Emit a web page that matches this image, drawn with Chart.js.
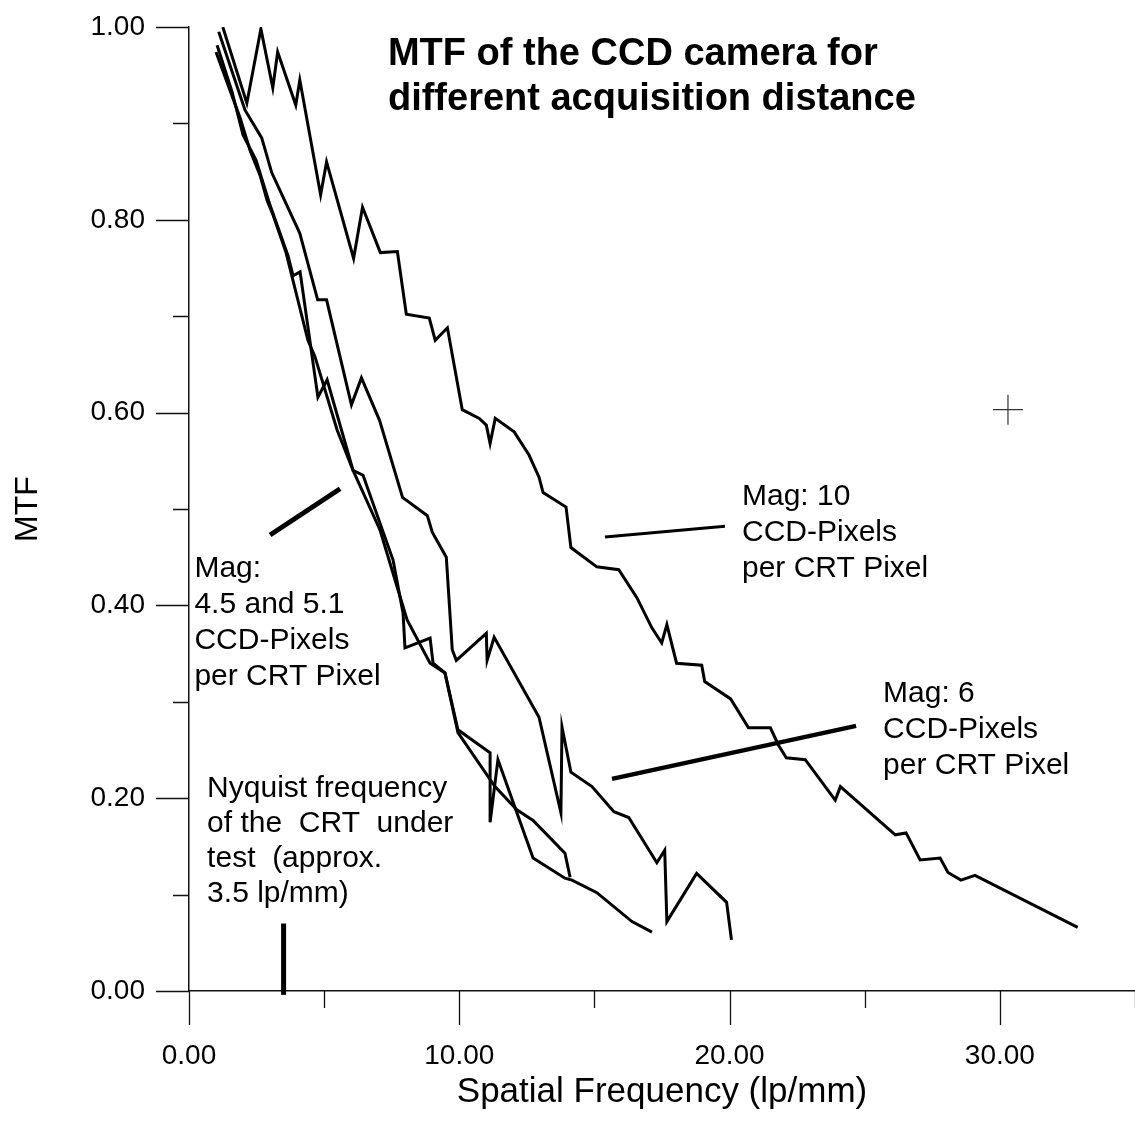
<!DOCTYPE html>
<html>
<head>
<meta charset="utf-8">
<title>MTF of the CCD camera</title>
<script src="https://cdn.jsdelivr.net/npm/chart.js@4.4.0/dist/chart.umd.min.js"></script>
<style>
  html, body { margin: 0; padding: 0; background: #fff; }
  canvas { display: block; }
</style>
</head>
<body>
<canvas id="mtfChart" width="1135" height="1121"></canvas>
<script>
// spatial frequency (lp/mm) and MTF for each magnification
const freqMag10 = [1.25, 2.14, 2.66, 3.10, 3.28, 3.95, 4.10, 4.87, 5.09, 6.09, 6.42, 7.08, 7.71, 8.04, 8.89, 9.11, 9.56, 10.11, 10.74, 11.0, 11.14, 11.33, 12.03, 12.58, 12.95, 13.10, 13.95, 14.13, 15.09, 15.90, 16.57, 17.12, 17.49, 17.68, 18.04, 18.97, 19.08, 20.04, 20.70, 21.51, 21.81, 22.10, 22.80, 23.91, 24.10, 26.13, 26.53, 27.05, 27.79, 28.08, 28.56, 29.08, 32.88];
const mtfMag10  = [1.0, 0.921, 0.998, 0.937, 0.974, 0.919, 0.945, 0.826, 0.860, 0.760, 0.813, 0.766, 0.767, 0.702, 0.698, 0.675, 0.688, 0.603, 0.594, 0.587, 0.568, 0.594, 0.580, 0.556, 0.533, 0.517, 0.502, 0.460, 0.440, 0.437, 0.408, 0.377, 0.361, 0.380, 0.340, 0.338, 0.321, 0.303, 0.273, 0.273, 0.255, 0.242, 0.240, 0.198, 0.212, 0.162, 0.164, 0.136, 0.138, 0.123, 0.115, 0.120, 0.066];

const freqMag6 = [1.1, 2.07, 2.69, 3.06, 4.10, 4.76, 5.09, 6.01, 6.38, 7.05, 7.90, 8.82, 9.00, 9.52, 9.74, 9.89, 11.0, 11.03, 11.29, 12.95, 13.76, 13.80, 14.13, 14.91, 15.72, 16.27, 17.31, 17.60, 17.68, 18.78, 19.89, 20.07];
const mtfMag6  = [0.995, 0.914, 0.885, 0.849, 0.786, 0.717, 0.717, 0.608, 0.636, 0.592, 0.512, 0.493, 0.476, 0.450, 0.354, 0.343, 0.371, 0.343, 0.367, 0.284, 0.185, 0.274, 0.227, 0.212, 0.186, 0.180, 0.133, 0.146, 0.072, 0.122, 0.092, 0.053];

const freqMag45 = [1.04, 1.59, 2.0, 2.48, 3.0, 3.66, 3.85, 4.11, 4.77, 5.11, 6.07, 6.44, 7.55, 7.92, 7.99, 8.92, 9.03, 9.47, 9.95, 11.14, 11.14, 11.43, 12.73, 13.91, 14.17, 15.09, 16.39, 17.13];
const mtfMag45  = [0.981, 0.933, 0.888, 0.862, 0.815, 0.763, 0.742, 0.746, 0.616, 0.634, 0.540, 0.535, 0.447, 0.392, 0.356, 0.366, 0.340, 0.330, 0.271, 0.247, 0.175, 0.240, 0.138, 0.117, 0.115, 0.102, 0.072, 0.061];

const freqMag51 = [1.0, 1.44, 1.89, 2.26, 2.63, 2.89, 3.11, 3.59, 4.40, 4.66, 5.48, 6.07, 7.07, 7.81, 8.07, 8.92, 9.47, 9.95, 11.32, 12.13, 12.73, 13.91, 14.10];
const mtfMag51  = [0.974, 0.940, 0.906, 0.872, 0.846, 0.820, 0.805, 0.766, 0.675, 0.658, 0.582, 0.540, 0.478, 0.409, 0.385, 0.340, 0.330, 0.268, 0.212, 0.188, 0.177, 0.143, 0.118];

// Nyquist marker of the CRT (approx. 3.5 lp/mm)
const nyquistFreq = [3.5, 3.5];
const nyquistMtf  = [-0.004, 0.07];

// leader lines from the labels to the curves
const leaderMag45 = { x: [3.0, 5.59],   y: [0.473, 0.521] };
const leaderMag10 = { x: [15.39, 19.83], y: [0.471, 0.482] };
const leaderMag6  = { x: [15.65, 24.68], y: [0.220, 0.275] };

// stray cross marker
const crossFreq = [30.3];
const crossMtf  = [0.603];

// tick values that carry a label
const xLabelTicks = [0, 10, 20, 30];
const yLabelTicks = [0, 0.2, 0.4, 0.6, 0.8, 1.0];

const FONT = '"Liberation Sans", Arial, Helvetica, sans-serif';

const toPoints = (xs, ys) => xs.map((x, i) => ({ x: x, y: ys[i] }));

const curve = (label, xs, ys) => ({
    label: label,
    data: toPoints(xs, ys),
    showLine: true,
    borderColor: '#000',
    borderWidth: 3,
    borderJoinStyle: 'miter',
    pointRadius: 0,
    tension: 0,
    fill: false
});

const leader = (label, line, width) => ({
    label: label,
    data: toPoints(line.x, line.y),
    showLine: true,
    borderColor: '#000',
    borderWidth: width,
    borderCapStyle: 'butt',
    pointRadius: 0
});

// texts placed in data coordinates: [freq, mtf] of the first baseline
const notes = [
    { at: [7.36, 0.961], lines: ['MTF of the CCD camera for', 'different acquisition distance'], font: 'bold 38px ' + FONT, step: 45 },
    { at: [20.46, 0.504], lines: ['Mag: 10', 'CCD-Pixels', 'per CRT Pixel'], font: '30px ' + FONT, step: 36 },
    { at: [25.68, 0.300], lines: ['Mag: 6', 'CCD-Pixels', 'per CRT Pixel'], font: '30px ' + FONT, step: 36 },
    { at: [0.2, 0.429], lines: ['Mag:', '4.5 and 5.1', 'CCD-Pixels', 'per CRT Pixel'], font: '30px ' + FONT, step: 36 },
    { at: [0.67, 0.201], lines: ['Nyquist frequency', 'of the  CRT  under', 'test  (approx.', '3.5 lp/mm)'], font: '30px ' + FONT, step: 35 }
];

// major/minor tick marks on both axes
const tickMarks = {
    id: 'tickMarks',
    afterDraw(chart) {
        const ctx = chart.ctx;
        const xs = chart.scales.x, ys = chart.scales.y;
        const area = chart.chartArea;
        ctx.save();
        ctx.strokeStyle = '#111';
        ctx.lineWidth = 1.3;
        ctx.beginPath();
        xs.ticks.forEach(t => {
            const px = Math.round(xs.getPixelForValue(t.value)) + 0.5;
            const len = xLabelTicks.includes(t.value) ? 34 : 17;
            ctx.moveTo(px, area.bottom);
            ctx.lineTo(px, area.bottom + len);
        });
        ys.ticks.forEach(t => {
            const py = Math.round(ys.getPixelForValue(t.value)) + 0.5;
            const major = Math.round(t.value * 10) % 2 === 0;
            ctx.moveTo(area.left - (major ? 33 : 16), py);
            ctx.lineTo(area.left, py);
        });
        ctx.stroke();
        ctx.restore();
    }
};

const noteText = {
    id: 'noteText',
    afterDraw(chart) {
        const ctx = chart.ctx;
        const xs = chart.scales.x, ys = chart.scales.y;
        ctx.save();
        ctx.fillStyle = '#000';
        ctx.textAlign = 'left';
        ctx.textBaseline = 'alphabetic';
        notes.forEach(n => {
            ctx.font = n.font;
            const x0 = xs.getPixelForValue(n.at[0]);
            const y0 = ys.getPixelForValue(n.at[1]);
            n.lines.forEach((s, i) => ctx.fillText(s, x0, y0 + i * n.step));
        });
        ctx.restore();
    }
};

// tick marks come from the plugin; the hidden grid ticks only reserve label space
const hiddenGrid = (len) => ({
    display: true,
    drawOnChartArea: false,
    drawTicks: true,
    tickLength: len,
    tickColor: 'rgba(0,0,0,0)'
});

new Chart(document.getElementById('mtfChart'), {
    type: 'scatter',
    data: {
        datasets: [
            curve('Mag 10', freqMag10, mtfMag10),
            curve('Mag 6', freqMag6, mtfMag6),
            curve('Mag 4.5', freqMag45, mtfMag45),
            curve('Mag 5.1', freqMag51, mtfMag51),
            leader('leader 4.5/5.1', leaderMag45, 5),
            leader('leader 10', leaderMag10, 3),
            leader('leader 6', leaderMag6, 4.5),
            {
                label: 'Nyquist',
                data: toPoints(nyquistFreq, nyquistMtf),
                showLine: true,
                borderColor: '#000',
                borderWidth: 5,
                pointRadius: 0,
                clip: false
            },
            {
                label: 'cross',
                data: toPoints(crossFreq, crossMtf),
                showLine: false,
                pointStyle: 'cross',
                pointRadius: 15,
                borderColor: '#333',
                borderWidth: 1.2,
                backgroundColor: '#333'
            }
        ]
    },
    options: {
        responsive: false,
        animation: false,
        layout: { autoPadding: false, padding: { top: 27, right: 0, bottom: 0, left: 0 } },
        plugins: {
            legend: { display: false },
            tooltip: { enabled: false }
        },
        scales: {
            x: {
                type: 'linear',
                min: 0,
                max: 35,
                afterFit: (s) => { s.height = 130; s.paddingLeft = 0; s.paddingRight = 0; },
                border: { display: true, color: '#111', width: 1.5 },
                grid: hiddenGrid(48),
                ticks: {
                    stepSize: 5,
                    autoSkip: false,
                    maxRotation: 0,
                    padding: 0,
                    color: '#000',
                    font: { family: FONT, size: 28 },
                    callback: (v) => xLabelTicks.includes(v) ? v.toFixed(2) : ''
                },
                title: {
                    display: true,
                    text: 'Spatial Frequency (lp/mm)',
                    color: '#000',
                    font: { family: FONT, size: 35 },
                    padding: { top: 0, bottom: 8 }
                }
            },
            y: {
                min: 0,
                max: 1,
                afterFit: (s) => { s.width = 189; s.paddingTop = 0; s.paddingBottom = 0; },
                border: { display: true, color: '#111', width: 1.5 },
                grid: hiddenGrid(44),
                ticks: {
                    stepSize: 0.1,
                    autoSkip: false,
                    padding: 0,
                    color: '#000',
                    font: { family: FONT, size: 28 },
                    callback: (v) => yLabelTicks.some(t => Math.abs(t - v) < 1e-6) ? v.toFixed(2) : ''
                },
                title: {
                    display: true,
                    text: 'MTF',
                    color: '#000',
                    font: { family: FONT, size: 32 },
                    padding: { top: 9, bottom: 0 }
                }
            }
        }
    },
    plugins: [tickMarks, noteText]
});
</script>
</body>
</html>
